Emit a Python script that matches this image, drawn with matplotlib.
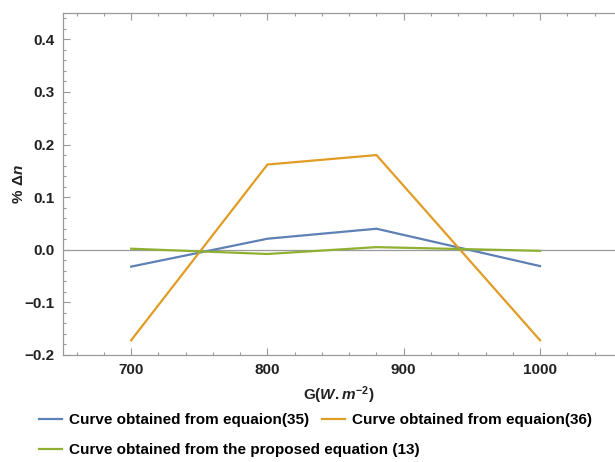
import numpy as np
import matplotlib
matplotlib.use("Agg")
import matplotlib.pyplot as plt
from matplotlib.ticker import MultipleLocator

plt.rcParams['font.family'] = ['Liberation Sans', 'DejaVu Sans']
plt.rcParams['font.weight'] = 'bold'
plt.rcParams['mathtext.fontset'] = 'custom'
plt.rcParams['mathtext.rm'] = 'Liberation Sans:bold'
plt.rcParams['mathtext.it'] = 'Liberation Sans:bold:italic'
plt.rcParams['mathtext.bf'] = 'Liberation Sans:bold'

# irradiance values (W/m^2)
g = [700, 800, 880, 1000]

# % delta n for each equation
eq35 = [-0.032, 0.021, 0.040, -0.031]
eq36 = [-0.172, 0.162, 0.180, -0.172]
eq13 = [0.002, -0.008, 0.005, -0.002]

labels = ["Curve obtained from equaion(35)",
          "Curve obtained from equaion(36)",
          "Curve obtained from the proposed equation (13)"]
colors = ['#5E81B5', '#E19C24', '#8FB032']

fig = plt.figure(figsize=(6.15, 4.62), dpi=100)
ax = fig.add_axes([63/615, 1 - 355/462, (615 - 63)/615, (355 - 13)/462])

lines = []
for y, c, lab in zip([eq35, eq36, eq13], colors, labels):
    ln, = ax.plot(g, y, color=c, lw=1.6, label=lab)
    lines.append(ln)

ax.axhline(0, color='#999999', lw=0.9, zorder=0)

ax.set_xlim(650, 1055)
ax.set_ylim(-0.2, 0.45)
ax.xaxis.set_major_locator(MultipleLocator(100))
ax.xaxis.set_minor_locator(MultipleLocator(20))
ax.yaxis.set_minor_locator(MultipleLocator(0.02))
ax.set_yticks([-0.2, -0.1, 0.0, 0.1, 0.2, 0.3, 0.4])
ax.set_yticklabels(['\u22120.2', '\u22120.1', '0.0', '0.1', '0.2', '0.3', '0.4'])

for s in ['left', 'bottom', 'top']:
    ax.spines[s].set_color('#999999')
    ax.spines[s].set_linewidth(0.9)
ax.spines['right'].set_visible(False)

ax.tick_params(which='both', direction='in', color='#999999', top=True,
               labelsize=11, labelcolor='#222222', width=0.8)
ax.tick_params(which='major', length=5, pad=6)
ax.tick_params(which='minor', length=2.5)

ax.set_xlabel(r'$\mathbf{G(}\mathit{W{.}m}^{\mathbf{-2}}\mathbf{)}$', fontsize=11, color='#222222', labelpad=5)
ax.set_ylabel(r'$\mathbf{\%\ \Delta} n$', fontsize=11, color='#222222', labelpad=-1)

fig.legend(handles=lines[:2], loc='center left', bbox_to_anchor=(25/615, 1 - 420/462),
           ncol=2, frameon=False, handlelength=1.5, handletextpad=0.5, columnspacing=0.8,
           prop={'weight': 'bold', 'size': 11})
fig.legend(handles=lines[2:], loc='center left', bbox_to_anchor=(25/615, 1 - 450/462),
           frameon=False, handlelength=1.5, handletextpad=0.5,
           prop={'weight': 'bold', 'size': 11})

fig.savefig('out.png', dpi=100)
